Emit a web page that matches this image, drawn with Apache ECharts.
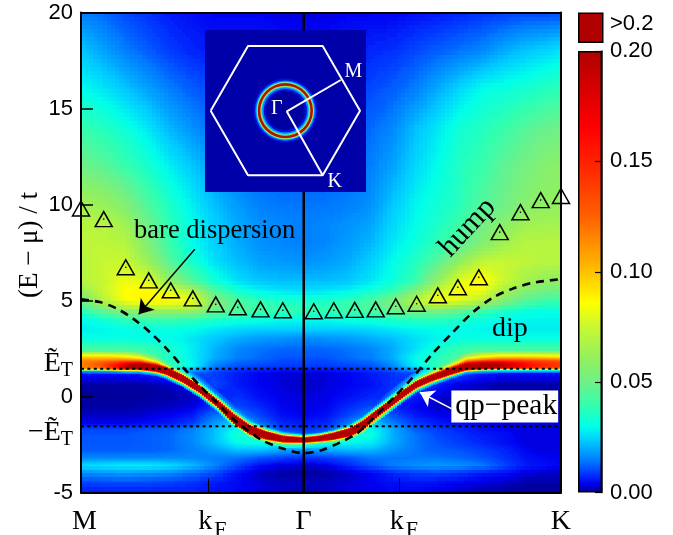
<!DOCTYPE html>
<html><head><meta charset="utf-8">
<style>html,body{margin:0;padding:0;background:#fff}#c{width:673px;height:535px}</style>
<script src="https://cdn.jsdelivr.net/npm/echarts@6/dist/echarts.min.js"></script>
</head><body><div id="c"></div>
<script>
// Broad spectral background, units of 0.01; rows follow energyRows, columns follow momentumCols
const momentumCols=[-1,-.9,-.8,-.7,-.6,-.5,-.4,-.3,-.2,-.1,0,.1,.2,.3,.4,.5,.6,.7,.8,.9,1,1.1,1.155];
const energyRows=[-5,-4.5,-4,-3.6,-3.2,-2.8,-2.4,-2,-1.7,-1.4,-1,-.5,0,.6,1.2,1.6,2,2.5,3,3.5,4,4.5,5,5.5,6,7,8,9,10,12,14,16,18,20];
const spectral=[
[.6,.6,.6,.6,.6,.6,.5,.4,.3,.2,.1,.2,.3,.35,.4,.4,.3,.2,.1,.1,.05,.05,.05],
[.9,1,1,1,.9,.8,.6,.45,.3,.2,.2,.2,.3,.4,.5,.55,.5,.4,.3,.2,.1,.1,.1],
[1.6,1.7,1.8,1.7,1.6,1.3,1,.5,.2,.1,.1,.1,.2,.4,.7,.9,.9,.8,.6,.5,.3,.2,.2],
[2.6,2.7,2.8,2.8,2.6,2.2,1.6,1,.5,.3,.2,.3,.7,1.1,1.5,1.7,1.8,1.7,1.5,1,.6,.5,.4],
[1.6,1.6,1.6,1.6,1.6,1.6,1.5,1.4,1.1,.9,.8,.9,1.1,1.4,1.4,1.4,1.4,1.3,1.1,.8,.5,.4,.4],
[1.2,1.2,1.2,1.2,1.3,1.5,1.8,2.2,2.2,1.9,1.7,1.9,2.1,2.1,1.7,1.4,1.2,1.1,.9,.7,.4,.3,.3],
[1.1,1.1,1.1,1.2,1.3,1.6,2.2,3,3.2,3,3,3,3,2.8,2,1.4,1.1,.9,.7,.5,.3,.3,.3],
[1.1,1.1,1.1,1.2,1.3,1.6,2.2,3.4,3.2,1.5,1.2,1.5,3.2,3.2,2,1.4,1,.8,.6,.5,.3,.3,.3],
[1,1,1,1.1,1.2,1.5,2.2,3,2,1,.8,1,2,3,2,1.2,.9,.7,.5,.4,.3,.3,.3],
[.4,.4,.4,.5,.6,.9,1.8,2.5,1.4,.7,.6,.7,1.4,2.5,1.5,.9,.6,.5,.4,.3,.3,.3,.3],
[.2,.2,.2,.3,.4,.6,1.4,1.6,1,.5,.4,.5,1,1.6,1.1,.6,.4,.3,.2,.2,.2,.2,.2],
[.1,.1,.1,.15,.2,.3,.8,1,.7,.4,.3,.4,.7,1,.6,.4,.2,.15,.1,.1,.1,.1,.1],
[.05,.05,.05,.1,.1,.2,.5,.8,.5,.35,.3,.35,.5,.7,.8,.6,.3,.15,.1,.1,.1,.1,.1],
[.1,.1,.1,.1,.2,.5,1,.6,.4,.3,.2,.3,.4,.5,.8,1,.6,.3,.2,.1,.1,.1,.1],
[.6,.5,.5,.6,1,1.2,.9,.6,.4,.3,.3,.3,.4,.6,.8,1,1.2,1,.6,.5,.5,.5,.5],
[5,5,5,5,4,3,1.5,1.1,1,.9,.9,.9,1,1.1,1.6,2.8,4,5,5,5,5,5,5],
[5,5,5,4.5,3.5,2.8,2,1.5,1.3,1.1,1.1,1.1,1.3,1.5,2,3,3.6,4.5,5,5,5,5,5],
[4.2,4.2,4.2,3.9,3.4,2.8,2.1,1.6,1.4,1.3,1.3,1.3,1.4,1.6,2,2.6,3.3,3.9,4.2,4.2,4.2,4.2,4.2],
[3.1,3.1,3.1,3,3,2.7,2.3,2,1.8,1.7,1.6,1.7,1.8,2,2.2,2.6,2.9,3.1,3.1,3.1,3.1,3.1,3.1],
[2.8,2.9,3,3.1,3.1,3,2.7,2.5,2.4,2.4,2.4,2.4,2.4,2.5,2.7,2.9,3,3,2.9,2.8,2.8,2.8,2.8],
[3,3.3,3.8,4,4,3.8,3.5,3.3,3.2,3,3,3,3.2,3.3,3.5,3.7,3.7,3.5,3.2,3,2.9,2.9,2.9],
[3.8,5,6,6.5,6.5,6.5,5.2,4.5,4.2,4,4,4,4.2,4.5,5,5.5,5.5,5,4.2,3.6,3.2,3.1,3.1],
[5,7,8.5,8.8,8.8,8.3,5.5,4.4,3.8,3.5,3.4,3.5,3.8,4.3,5.3,7,8.5,8,7,5.5,4.5,4,4],
[6,7.5,8.6,8.8,8,7,4.5,3.4,2.9,2.7,2.6,2.7,2.9,3.3,4,5.5,7.5,8.6,8.2,6.5,5.5,5,5],
[7,7.5,8.3,8,6,4.5,3.3,2.6,2.3,2.2,2.2,2.2,2.3,2.7,3.2,4,6,8,8.8,7.5,6.5,6,6],
[7,7.5,7.5,6.3,4.5,3.4,2.6,2.2,1.9,1.8,1.7,1.8,2,2.4,3,3.6,4.6,6,7.3,7.5,7.2,7,7],
[7.2,7.2,7,5.5,4,3,2.4,2,1.7,1.6,1.5,1.6,1.8,2.1,2.7,3.2,3.8,4.5,5.5,6.4,7,7,7],
[7,7,6.4,5,3.8,3,2.4,2,1.7,1.6,1.5,1.6,1.7,1.9,2.5,3,3.5,4.1,5,5.7,6.4,6.5,6.5],
[6.5,6.2,5.5,4.4,3.5,2.8,2.2,1.8,1.5,1.4,1.4,1.4,1.5,1.7,2.3,2.9,3.3,3.7,4.5,5,5.7,6,6],
[5,4.6,4,3.4,2.8,2.3,1.8,1.5,1.3,1.2,1.2,1.2,1.3,1.5,1.9,2.5,3,3.6,4,4.7,5.2,5.7,5.8],
[4,3.6,3.2,2.7,2.1,1.7,1.3,1.2,1.1,1.1,1.1,1.1,1.2,1.3,1.6,2.2,2.7,3.3,3.6,4,4.5,4.9,5],
[3,2.7,2.3,1.9,1.5,1.2,1,.9,.9,.9,.9,.9,.9,1,1.2,1.5,2,2.5,3,3.2,3.4,3.7,3.8],
[2.3,1.9,1.5,1.2,.9,.7,.6,.6,.6,.6,.6,.6,.6,.7,.8,1,1.2,1.4,1.6,2,2.3,2.5,2.7],
[1.5,1.3,1,.8,.6,.5,.4,.4,.4,.3,.3,.3,.4,.4,.4,.5,.6,.7,.8,.9,1,1,1]
];
// Quasiparticle ridge: centre energy per momentum, and spectral weight at energy offsets from it
const ridgeK=[-1,-.916,-.841,-.796,-.736,-.661,-.617,-.542,-.467,-.392,-.317,-.242,-.167,-.093,0,.072,.132,.207,.267,.326,.387,.446,.507,.581,.656,.731,.806,.88,.955,1.03,1.155];
const ridgeCentre=[1.62,1.62,1.6,1.6,1.6,1.5,1.35,.92,.38,-.32,-1.13,-1.72,-2.02,-2.21,-2.27,-2.19,-2.07,-1.85,-1.48,-.9,-.38,.14,.64,1.01,1.32,1.58,1.63,1.65,1.65,1.65,1.65];
const ridgeOffsets=[-.45,-.3,-.22,-.15,-.08,0,.08,.15,.22,.3,.45,.7];
const ridgeValues=[
[.8,2,9,11,11.5,11.5,11.5,11.5,11.5,11,9.5,6],
[.8,2,9,11.5,12.5,13,13,12.5,12,11,9.5,6],
[.8,2,10,14,15.5,16,15.5,14.5,13,11.5,9.5,6],
[.8,2.5,11,17,19,19,18,16.5,14,11.5,9,6],
[.8,2.5,12,20,23,23,21,18,14,11,8,5],
[.8,3,13,22,24,24,22,17,12,9,6,3.5],
[1,3.5,12,22,24,25,23,16,10,6,4,3],
[1,3.5,10,20,24,25,24,20,10,5,2.5,1.5],
[1,3.5,9,20,25,25,25,20,9,4,2,1],
[1,3.5,9,20,25,26,25,20,9,4,1.5,1],
[2,6,20,26,26,26,26,26,18,6,2,1],
[3,7,20,26,26,26,26,25,14,5,2,1],
[3,6,13,24,26,26,26,22,10,4,1,.5],
[3,4,8,17,24,26,24,15,7,2.5,.5,.3],
[2.5,3,5,11,22,26,22,11,4.5,1.5,.4,.2],
[2.5,3,5,13,23,26,23,13,5,1.5,.4,.2],
[3,4,8,19,25,26,25,18,7,2,.5,.3],
[3,6,14,25,26,26,26,22,10,3.5,1,.5],
[3,8,20,26,26,26,26,25,14,5,1.5,.5],
[3,6,12,24,26,26,25,20,9,3.5,1.2,.5],
[2,3.5,9,20,25,26,25,18,8,4,1.5,1],
[1,3.5,9,20,25,26,24,18,8,4,2,1.2],
[1,3.5,9,19,24,25,23,17,8,4.5,2.5,1.5],
[1,3,9,19,23,25,22,16,9,6,3.5,2.5],
[.8,3,11,21,23,24,21,16,11,8,5,3],
[.8,2.5,12,20,23,23,21,18,14,11,7.5,4.5],
[.8,2.5,11,19,21.5,22,20.5,18,14.5,11.5,8.5,5.5],
[.8,2.5,11,18,20,20,19,17,14.5,12,9,5.5],
[.8,2.5,11,16,17.5,17.5,17,15.5,14,12,9,5.5],
[.8,2.5,10.5,14.5,15.5,15.5,15,14.5,13.5,11.5,9,5.5],
[.8,2.5,10,13,14,14,14,13.5,12.5,11,8.5,5.5]
];
// Colour scale (value in 0.01 units -> colour)
const scaleValues=[0,.4,.8,1.5,2.4,3,3.9,5,6,7.5,8.6,9.3,10,12.5,15,16.5,20];
const scaleColours=['#000088','#0000f0','#0030ff','#0080ff','#00d0ff','#00ffe8','#30ffb0','#70f088','#90f060','#c8f830','#ffff00','#ffe000','#ffc000','#ff6000','#ff2000','#ff0000','#b00000'];
// Bare dispersion
const bareK=[-1,-.916,-.841,-.768,-.692,-.617,-.543,-.467,-.392,-.319,-.257,-.184,-.094,0,.072,.162,.238,.31,.4,.489,.579,.669,.759,.849,.938,1.028,1.155];
const bareE=[5.06,4.92,4.59,4.07,3.36,2.51,1.53,.57,-.3,-1.15,-1.72,-2.3,-2.71,-2.95,-2.82,-2.4,-1.93,-1.15,-.1,.99,2.24,3.34,4.38,5.15,5.62,5.92,6.11];
// Hump positions (triangles)
const humpK=[-1,-.898,-.799,-.696,-.597,-.498,-.395,-.296,-.194,-.094,.045,.135,.229,.323,.413,.507,.602,.692,.786,.88,.973,1.064,1.155];
const humpE=[9.79,9.24,6.73,6.05,5.53,5.11,4.8,4.65,4.54,4.49,4.44,4.49,4.51,4.54,4.7,4.83,5.27,5.69,6.21,8.56,9.6,10.23,10.44];
const gapE=[1.45,-1.55];
const kMin=-1,kMax=1.155,kF=[-.427,.431];
const xTickValues=[-.984,-.41,0,.449,1.155];
const xTickNames=['{k|M}{z| }','{k|k}{s|F}','{k|Γ}{z| }','{k|k}{s|F}','{k|K}{z| }'];
const yTickValues=[-5,0,5,10,15,20];
const gapLabels=['{e|Ẽ}{t|T}','{e|−Ẽ}{t|T}'];
const gapLabelE=[1.7,-1.9];
// Inset: Brillouin zone
const hexX=[-1,-.5,.5,1,.5,-.5,-1];
const hexY=[0,.866,.866,0,-.866,-.866,0];
const pathX=[.742,.02,.5];
const pathY=[.411,-.01,-.866];
const ringRadii=[.43,.405,.39,.38,.37,.335,.325,.31,.29,.26];
const ringColours=['#0010d8','#0070ff','#00e0e8','#c8e850','#a81800','#c8d850','#20e0d0','#0080ff','#0010d8','#0000a0'];

const serif='"Liberation Serif","Times New Roman",serif', sans='"Liberation Sans",Arial,sans-serif';
const lerp=(a,b,t)=>a+(b-a)*t;
function locate(arr,x){let i=0;while(i<arr.length-2&&x>arr[i+1])i++;return [i,Math.min(1,Math.max(0,(x-arr[i])/(arr[i+1]-arr[i])))];}
function bgValue(k,E){const [i,t]=locate(momentumCols,k),[j,u]=locate(energyRows,E);
  return lerp(lerp(spectral[j][i],spectral[j][i+1],t),lerp(spectral[j+1][i],spectral[j+1][i+1],t),u);}
function ridgeValue(k,E){const [i,t]=locate(ridgeK,k);const off=E-lerp(ridgeCentre[i],ridgeCentre[i+1],t);
  if(off<ridgeOffsets[0]||off>ridgeOffsets[ridgeOffsets.length-1])return 0;
  const [j,u]=locate(ridgeOffsets,off);
  return lerp(lerp(ridgeValues[i][j],ridgeValues[i][j+1],u),lerp(ridgeValues[i+1][j],ridgeValues[i+1][j+1],u),t);}
const cache={};
function colourOf(v){const q=Math.round(v*25);if(cache[q])return cache[q];
  let c;if(v>=20)c=scaleColours[scaleColours.length-1];else{const [i,t]=locate(scaleValues,Math.max(0,v));c=echarts.color.lerp(t,[scaleColours[i],scaleColours[i+1]]);}
  return cache[q]=c;}

const cells=[];
for(let j=0;j<energyRows.length-1;j++)for(let i=0;i<momentumCols.length-1;i++)cells.push([momentumCols[i],energyRows[j],momentumCols[i+1],energyRows[j+1]]);
function renderCell(p,api){
  const k0=api.value(0),E0=api.value(1),k1=api.value(2),E1=api.value(3);
  const a=api.coord([k0,E0]),b=api.coord([k1,E1]);
  const x0=Math.round(a[0]),x1=Math.round(b[0]),y0=Math.round(b[1]),y1=Math.round(a[1]);
  const fine=E1>-3.6&&E0<3.6;const sx=fine?2:4,sy=fine?1:4;const kids=[];
  for(let x=x0;x<x1;x+=sx){const w=Math.min(sx,x1-x);const k=lerp(k0,k1,(x+w/2-a[0])/(b[0]-a[0]));
    for(let y=y0;y<y1;y+=sy){const h=Math.min(sy,y1-y);const E=lerp(E0,E1,(a[1]-y-h/2)/(a[1]-b[1]));
      const v=Math.max(bgValue(k,E),ridgeValue(k,E));
      kids.push({type:'rect',shape:{x,y,width:w,height:h},style:{fill:colourOf(v)},silent:true});}}
  return {type:'group',children:kids};
}
const chart=echarts.init(document.getElementById('c'),null,{renderer:'canvas'});
const dottedSeries=gapE.map(e=>({type:'line',xAxisIndex:0,yAxisIndex:0,z:4,showSymbol:false,silent:true,data:[[kMin,e],[kMax,e]],lineStyle:{color:'#000',width:2,type:[3,3.4]}}));
const textLabel=(txt,k,E,size,extra)=>({type:'scatter',xAxisIndex:0,yAxisIndex:0,z:9,symbolSize:0,silent:true,itemStyle:{opacity:1},data:[[k,E]],
  label:Object.assign({show:true,position:'inside',formatter:txt,color:'#000',fontFamily:serif,fontSize:size},extra||{})});
const stops=scaleValues.map((v,i)=>({offset:1-v/20,color:scaleColours[i]})).reverse();
chart.setOption({
  animation:false,
  grid:[{left:81,top:12.5,width:480,height:480,outerBoundsMode:'none'},{left:578,top:51,width:24,height:441.5,outerBoundsMode:'none'},{left:205,top:30,width:161,height:162,outerBoundsMode:'none'}],
  xAxis:[
    {gridIndex:0,type:'value',min:kMin,max:kMax,z:10,splitLine:{show:false},axisLine:{onZero:false,lineStyle:{color:'#000',width:2}},
     axisTick:{show:true,inside:true,length:14,customValues:kF,lineStyle:{color:'#000',width:1}},
     axisLabel:{customValues:xTickValues,margin:9,color:'#000',fontFamily:serif,fontSize:28,hideOverlap:false,showMinLabel:true,showMaxLabel:true,
       formatter:v=>xTickNames[xTickValues.indexOf(v)]||'',
       rich:{k:{fontFamily:serif,fontSize:28,color:'#000'},s:{fontFamily:serif,fontSize:22,color:'#000',padding:[18,0,0,2]},z:{fontFamily:serif,fontSize:1,padding:[39,0,0,0]}}}},
    {gridIndex:0,type:'value',position:'top',min:kMin,max:kMax,z:10,splitLine:{show:false},axisTick:{show:false},axisLabel:{show:false},axisLine:{onZero:false,lineStyle:{color:'#000',width:2}}},
    {gridIndex:1,type:'category',data:[''],show:false},
    {gridIndex:2,type:'value',min:-1.076,max:1.08,show:false}
  ],
  yAxis:[
    {gridIndex:0,type:'value',min:-5,max:20,z:10,splitLine:{show:false},axisLine:{onZero:false,show:true,lineStyle:{color:'#000',width:2}},
     axisTick:{show:true,inside:true,length:12,customValues:[0,5,10,15],lineStyle:{color:'#000',width:1.5}},
     axisLabel:{customValues:yTickValues.concat(gapLabelE),margin:8,color:'#000',fontFamily:sans,fontSize:22,showMinLabel:true,showMaxLabel:true,hideOverlap:false,
       formatter:v=>{const i=gapLabelE.indexOf(v);return i>=0?gapLabels[i]:String(v);},
       rich:{e:{fontFamily:serif,fontSize:28,color:'#000'},t:{fontFamily:serif,fontSize:20,color:'#000',padding:[14,0,0,0]}}}},
    {gridIndex:0,type:'value',position:'right',min:-5,max:20,z:10,splitLine:{show:false},axisTick:{show:false},axisLabel:{show:false},axisLine:{onZero:false,show:true,lineStyle:{color:'#000',width:2}}},
    {gridIndex:1,type:'value',position:'right',min:0,max:.2,interval:.05,z:10,splitLine:{show:false},axisLine:{show:true,lineStyle:{color:'#000',width:1.5}},
     axisTick:{show:true,inside:true,length:7,lineStyle:{color:'#000',width:1.2}},
     axisLabel:{margin:8,color:'#000',fontFamily:sans,fontSize:22,showMinLabel:true,showMaxLabel:true,formatter:v=>v.toFixed(2)}},
    {gridIndex:2,type:'value',min:-1.09,max:1.081,show:false}
  ],
  series:[
    {type:'custom',xAxisIndex:0,yAxisIndex:0,z:1,silent:true,clip:false,progressive:0,animation:false,data:cells,encode:{x:0,y:1},renderItem:renderCell},
    {type:'line',xAxisIndex:0,yAxisIndex:0,z:5,showSymbol:false,silent:true,data:[[0,-5],[0,20]],lineStyle:{color:'#000',width:2.5}},
    ...dottedSeries,
    {type:'line',xAxisIndex:0,yAxisIndex:0,z:5,smooth:.3,showSymbol:false,silent:true,data:bareK.map((k,i)=>[k,bareE[i]]),lineStyle:{color:'#000',width:2.6,type:[8,6]},
     markLine:{silent:true,animation:false,symbol:['none','arrow'],symbolSize:14,label:{show:false},data:[
       [{coord:[-.489,7.67],lineStyle:{color:'#000',width:1.4,type:'solid'},itemStyle:{color:'#000'}},{coord:[-.741,4.28]}],
       [{coord:[.663,-.63],lineStyle:{color:'#fff',width:1.6,type:'solid'},itemStyle:{color:'#fff'}},{coord:[.521,.22]}]]}},
    {type:'scatter',xAxisIndex:0,yAxisIndex:0,z:8,clip:false,silent:true,symbol:'triangle',symbolSize:[17,15],data:humpK.map((k,i)=>[k,humpE[i]]),itemStyle:{opacity:1,color:'rgba(0,0,0,0)',borderColor:'#000',borderWidth:1.5}},
    {type:'scatter',xAxisIndex:0,yAxisIndex:0,z:8,clip:false,silent:true,symbol:'circle',symbolSize:1.6,data:humpK.map((k,i)=>[k,humpE[i]]),itemStyle:{opacity:1,color:'#000'}},
    textLabel('bare dispersion',-.4,8.6,26.5),
    textLabel('hump',.736,8.8,30,{rotate:47}),
    textLabel('dip',.925,3.55,28),
    textLabel('qp−peak',.9025,-.52,29.5,{backgroundColor:'#fff',padding:[0,1,2,4]}),
    {type:'bar',xAxisIndex:2,yAxisIndex:2,barWidth:'100%',silent:true,data:[.2],itemStyle:{borderColor:'#000',borderWidth:1.5,color:new echarts.graphic.LinearGradient(0,0,0,1,stops)}},
    {type:'custom',xAxisIndex:3,yAxisIndex:3,z:20,silent:true,data:[[-1.076,-1.09,1.08,1.081]],encode:{x:0,y:1},renderItem:(p,api)=>{
       const a=api.coord([api.value(0),api.value(1)]),b=api.coord([api.value(2),api.value(3)]);
       return {type:'rect',shape:{x:a[0],y:b[1],width:b[0]-a[0],height:a[1]-b[1]},style:{fill:'#0000a8'}};}},
    {type:'custom',xAxisIndex:3,yAxisIndex:3,z:21,silent:true,data:ringRadii.map((r,i)=>[0,0,r,i]),encode:{x:0,y:1},renderItem:(p,api)=>{
       const c=api.coord([0,0]),e=api.coord([api.value(2),0]);
       return {type:'circle',shape:{cx:c[0],cy:c[1],r:e[0]-c[0]},style:{fill:ringColours[api.value(3)]}};}},
    {type:'line',xAxisIndex:3,yAxisIndex:3,z:22,showSymbol:false,silent:true,data:hexX.map((x,i)=>[x,hexY[i]]),lineStyle:{color:'#fff',width:2}},
    {type:'line',xAxisIndex:3,yAxisIndex:3,z:22,showSymbol:false,silent:true,data:pathX.map((x,i)=>[x,pathY[i]]),lineStyle:{color:'#fff',width:2}},
    {type:'scatter',xAxisIndex:3,yAxisIndex:3,z:23,symbolSize:0,silent:true,itemStyle:{opacity:1},data:[[-.115,.02,'Γ'],[.911,.52,'M'],[.66,-.95,'K']],
     label:{show:true,position:'inside',formatter:p=>p.value[2],color:'#fff',fontFamily:serif,fontSize:20}}
  ],
  graphic:[
    {type:'rect',left:578,top:12.5,shape:{width:24,height:29},style:{fill:'#b00000',stroke:'#000',lineWidth:1.5}},
    {type:'text',left:610,top:13,style:{text:'>0.2',fill:'#000',font:'22px '+sans}},
    {type:'text',x:30,y:245,rotation:Math.PI/2,style:{text:'(E − μ) / t',fill:'#000',font:'27px '+serif,align:'center',verticalAlign:'middle'}}
  ]
});
</script></body></html>
